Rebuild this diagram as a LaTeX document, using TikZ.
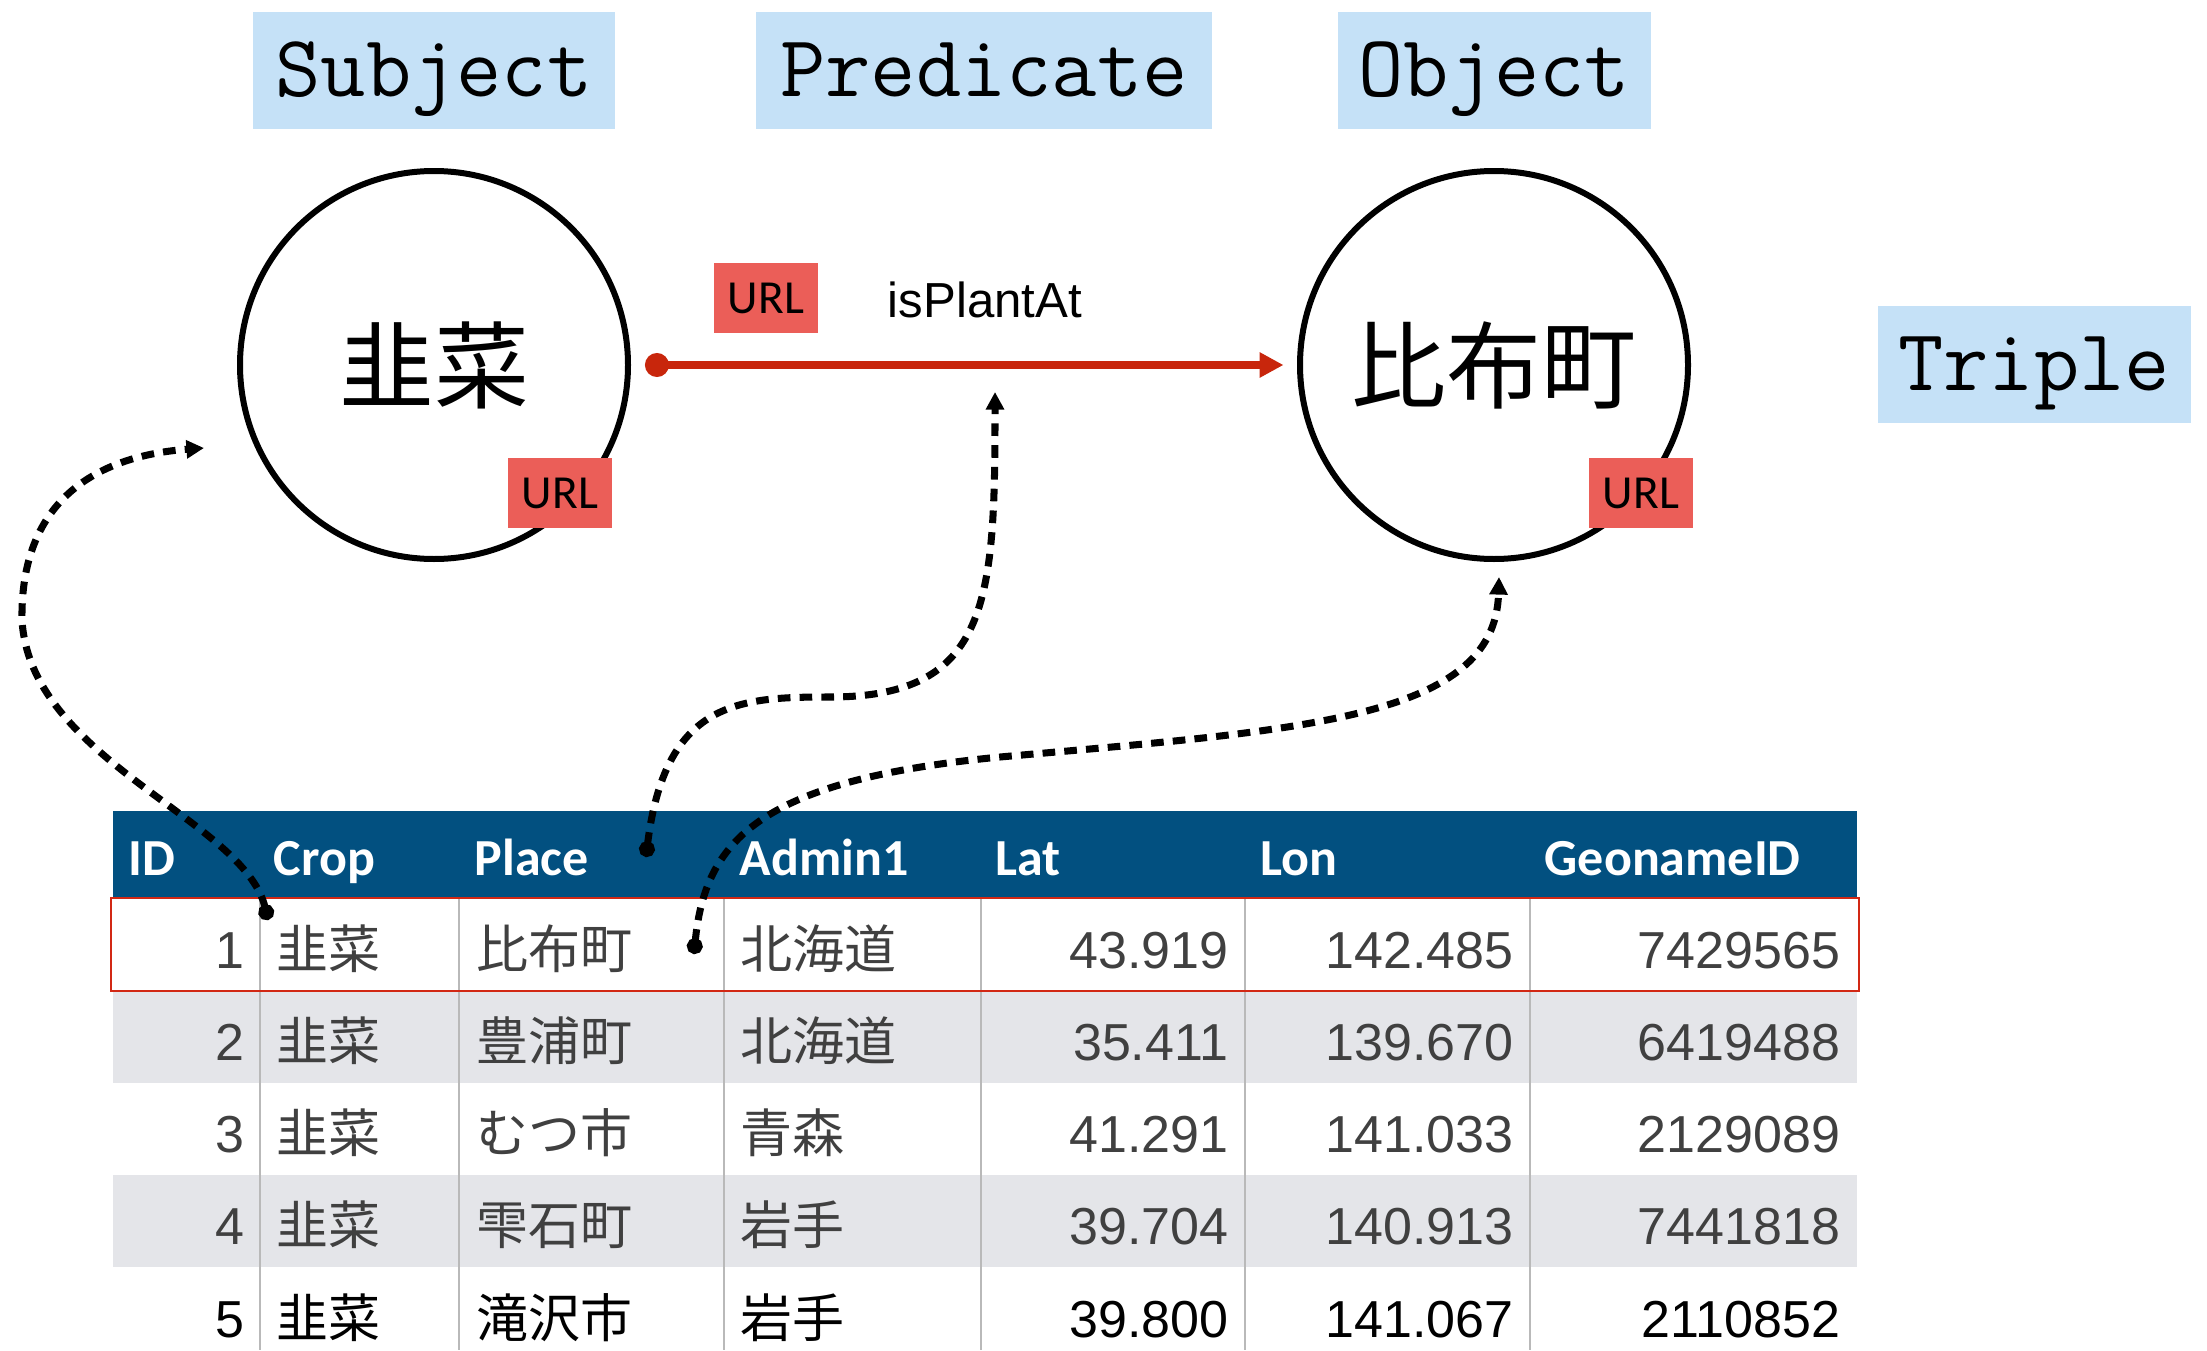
\documentclass[tikz,border=0pt]{standalone}
\usepackage{fontspec}
\setmainfont{Liberation Sans}
\newfontfamily\calfont{Carlito}
\newfontfamily\cjkfont{Noto Sans CJK JP}
\usetikzlibrary{arrows.meta}
\definecolor{labelblue}{RGB}{197,225,247}
\definecolor{urlred}{RGB}{235,94,88}
\definecolor{predred}{RGB}{200,38,12}
\definecolor{headblue}{RGB}{2,80,128}
\definecolor{rowgray}{RGB}{228,229,233}
\definecolor{gridgray}{RGB}{185,185,185}
\definecolor{celltext}{RGB}{64,64,64}
\definecolor{markred}{RGB}{210,40,20}
\begin{document}
\begin{tikzpicture}
        [x=0.1mm,y=-0.1mm,
         role/.style={fill=labelblue,inner sep=0pt,minimum height=11.7mm,
           text height=5.2mm,text depth=0pt,font=\ttfamily\fontsize{25pt}{27pt}\selectfont},
         term/.style={circle,draw,line width=0.6mm,minimum size=38.8mm,inner sep=0pt,
           font=\cjkfont\fontsize{27pt}{30pt}\selectfont},
         url/.style={fill=urlred,inner sep=0pt,minimum width=10.4mm,minimum height=7mm,
           font=\calfont\fontsize{13.5pt}{15pt}\selectfont},
         head/.style={anchor=base west,text=white,inner sep=0pt,
           font=\calfont\bfseries\fontsize{14.8pt}{16pt}\selectfont},
         num/.style={anchor=base east,inner sep=0pt,font=\fontsize{14.8pt}{16pt}\selectfont},
         jp/.style={anchor=base west,inner sep=0pt,font=\cjkfont\fontsize{14.8pt}{16pt}\selectfont},
         link/.style={dash pattern=on 3.6pt off 2.6pt,line width=2pt,
           arrows={Circle[length=4.5pt]-Triangle[length=5pt,width=5pt]}}]
        \useasboundingbox (0,0) rectangle (2207,1350);

        \node[role,minimum width=36.2mm] (subjlabel) at (434,71) {Subject};
        \node[role,minimum width=45.6mm] (predlabel) at (984,71) {Predicate};
        \node[role,minimum width=31.3mm] (objlabel) at (1494,71) {Object};
        \node[role,minimum width=31.3mm] (triplelabel) at (2034,364) {Triple};

        \node[term] (subj) at (434,365) {韭菜};
        \node[term] (obj) at (1494,365) {比布町};
        \node[url] (subjurl) at (560,493) {URL};
        \node[url] (objurl) at (1641,493) {URL};
        \node[url] (predurl) at (766,298) {URL};
        \node[font=\fontsize{14pt}{16pt}\selectfont,inner sep=0pt] (predname) at (985,300) {isPlantAt};

        \draw[predred,line width=0.8mm,{Circle[length=6.8pt,width=6.8pt]}-{Triangle[length=6.8pt,width=6.8pt]}]
        ([xshift=1.4mm]subj.east) -- ([xshift=-1.35mm]obj.west);

        \fill[headblue] (113,811) rectangle (1857,898);
        \fill[rowgray] (113,990) rectangle (1857,1083);
        \fill[rowgray] (113,1175) rectangle (1857,1267);
        \foreach \x in {260,459,724,981,1245,1530}
        \draw[gridgray,line width=0.2mm] (\x,898) -- (\x,1350);

        \node[head] (hid) at (128,875) {ID};
        \node[head] (hcrop) at (273,875) {Crop};
        \node[head] (hplace) at (474,875) {Place};
        \node[head] (hadmin) at (739,875) {Admin1};
        \node[head] (hlat) at (995,875) {Lat};
        \node[head] (hlon) at (1260,875) {Lon};
        \node[head] (hgid) at (1544,875) {GeonameID};

        \foreach \i/\crop/\place/\adm/\lat/\lon/\gid/\tone in
        {1/韭菜/比布町/北海道/43.919/142.485/7429565/celltext,
         2/韭菜/豊浦町/北海道/35.411/139.670/6419488/celltext,
         3/韭菜/むつ市/青森/41.291/141.033/2129089/celltext,
         4/韭菜/雫石町/岩手/39.704/140.913/7441818/celltext,
         5/韭菜/滝沢市/岩手/39.800/141.067/2110852/black}
        {
        \node[num,text=\tone] (id\i) at (245,{968+92.25*(\i-1)}) {\i};
        \node[jp,text=\tone] (crop\i) at (276,{968+92.25*(\i-1)}) {\crop};
        \node[jp,text=\tone] (place\i) at (476,{968+92.25*(\i-1)}) {\place};
        \node[jp,text=\tone] (admin\i) at (740,{968+92.25*(\i-1)}) {\adm};
        \node[num,text=\tone] (lat\i) at (1229,{968+92.25*(\i-1)}) {\lat};
        \node[num,text=\tone] (lon\i) at (1514,{968+92.25*(\i-1)}) {\lon};
        \node[num,text=\tone] (gid\i) at (1841,{968+92.25*(\i-1)}) {\gid};
        }

        \draw[markred,line width=0.25mm] (111,898) rectangle (1859,991);

        \coordinate (cropdot) at (268,920);
        \coordinate (placedot) at (646,857);
        \coordinate (rowdot) at (694,954);
        \coordinate (subjtip) at (204,448);
        \coordinate (predtip) at (995,392);
        \coordinate (objtip) at (1499,577);

        \draw[link] (cropdot) .. controls (245,820) and (30,760) .. (22,620)
        .. controls (20,490) and (110,455) .. (subjtip);
        \draw[link] (placedot) .. controls (665,700) and (740,697) .. (830,697)
        .. controls (990,697) and (995,600) .. (predtip);
        \draw[link] (rowdot) .. controls (705,840) and (760,780) .. (1000,757)
        .. controls (1300,730) and (1495,720) .. (objtip);
      \end{tikzpicture}
\end{document}
